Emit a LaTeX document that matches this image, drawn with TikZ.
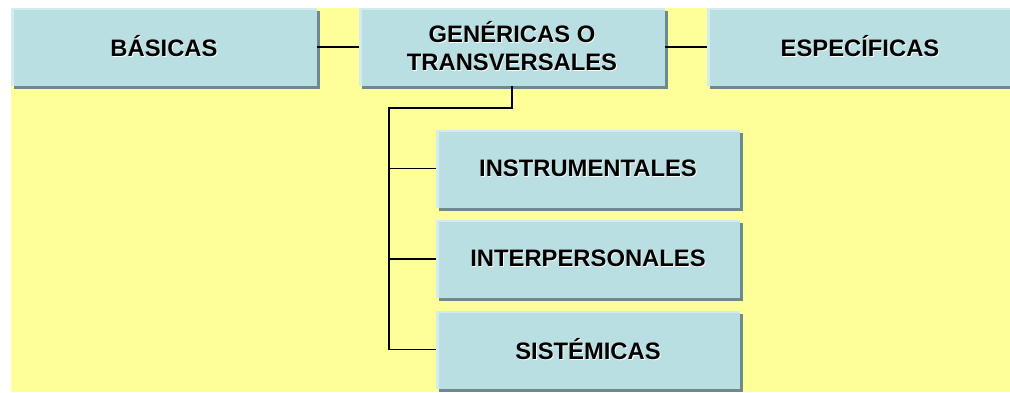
\documentclass[tikz,border=0pt]{standalone}
\usepackage{fontspec}
\setmainfont{Liberation Sans}
\usetikzlibrary{shadows}
\definecolor{bgyellow}{HTML}{FFFF99}
\definecolor{boxfill}{HTML}{B9DFE3}
\definecolor{boxlight}{HTML}{D3ECEE}
\definecolor{boxshadow}{HTML}{6E8A8C}
\newcommand\shtxt[1]{\leavevmode\rlap{\kern0.9pt\raisebox{-0.9pt}{\color{white}#1}}#1}
\begin{document}
\begin{tikzpicture}[x=1pt,y=-1pt,
  cbox/.style={rectangle, inner sep=0pt, minimum height=78pt, fill=boxlight,
    drop shadow={shadow xshift=3pt, shadow yshift=-3pt, fill=boxshadow, opacity=1},
    path picture={\fill[boxfill] ([xshift=3pt]path picture bounding box.south west) rectangle ([yshift=-2pt]path picture bounding box.north east);},
    font=\bfseries\fontsize{23.8}{28}\selectfont, align=center, text=black},
  topbox/.style={cbox, minimum width=306pt},
  subbox/.style={cbox, minimum width=304pt},
  conn/.style={draw=black, line width=1.8pt}]
\path[use as bounding box] (0,0) rectangle (1010,392);
\begin{scope}
\clip (0,0) rectangle (1010,392);
\fill[white] (0,0) rectangle (1010,392);
\fill[bgyellow] (11,8) rectangle (1010,392);
\node[topbox] (bas) at (164,47) {\shtxt{BÁSICAS}};
\node[topbox] (gen) at (512,47) {\shtxt{GENÉRICAS O}\\\shtxt{TRANSVERSALES}};
\node[topbox, minimum width=330pt] (esp) at (872,47) {\hspace*{-24pt}\shtxt{ESPECÍFICAS}};
\node[subbox] (ins) at (588,168.5) {\shtxt{INSTRUMENTALES}};
\node[subbox] (int) at (588,259) {\shtxt{INTERPERSONALES}};
\node[subbox] (sis) at (588,349.5) {\shtxt{SISTÉMICAS}};
\coordinate (trunk) at (389,108);
\draw[conn] (bas.east) -- (gen.west);
\draw[conn] (gen.east) -- (esp.west);
\draw[conn] (gen.south) |- (trunk) -- (trunk |- sis.west) -- (sis.west);
\draw[conn] (trunk |- ins.west) -- (ins.west);
\draw[conn] (trunk |- int.west) -- (int.west);
\end{scope}
\end{tikzpicture}
\end{document}
